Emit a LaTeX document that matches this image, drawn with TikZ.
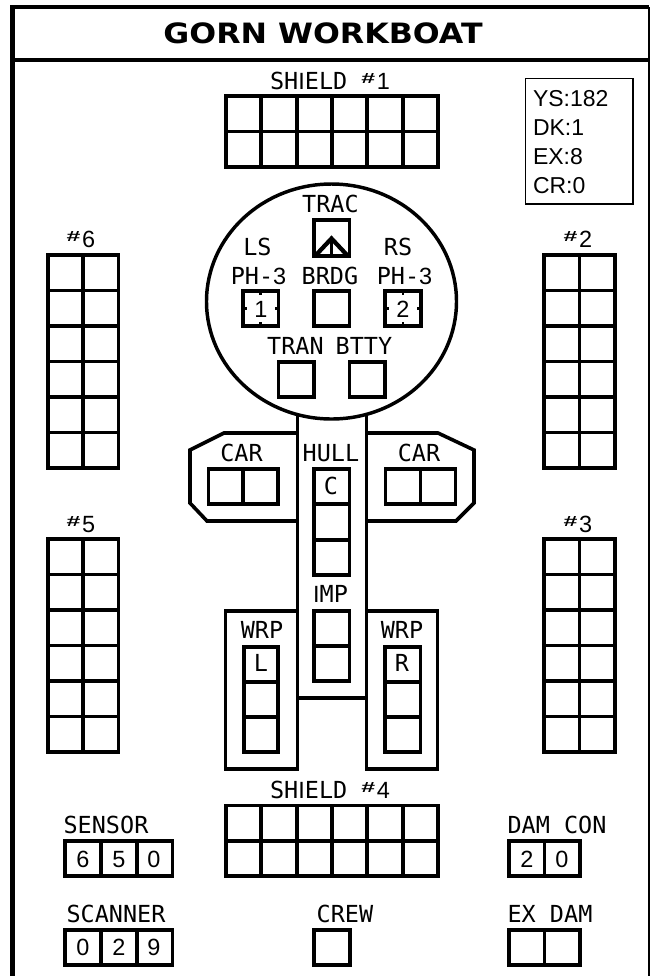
\documentclass[tikz,border=0pt]{standalone}
\usepackage{fontspec}
\setmainfont{DejaVu Sans Mono}
\newfontfamily\lib{Liberation Sans}
\newfontfamily\ttl{DejaVu Sans}
\newcommand{\nI}{{\lib I}}
\newcommand{\num}[1]{{\lib #1}}
\newcommand{\hashsym}{\raisebox{4.2pt}{\scalebox{1.7}[1]{\fontsize{11pt}{11pt}\lib\bfseries\#}}\kern1.2pt}
\newcommand{\cells}[6]{%
  \foreach \i in {0,...,#5} {
    \pgfmathsetmacro{\xx}{#1+(#3-#1)*\i/#5}
    \draw[cellline] (\xx,#2) -- (\xx,#4);
  }
  \foreach \j in {0,...,#6} {
    \pgfmathsetmacro{\yy}{#2+(#4-#2)*\j/#6}
    \draw[cellline] (#1,\yy) -- (#3,\yy);
  }
}
\tikzset{
  cellline/.style={line width=2.85pt,line cap=rect,black},
  hullline/.style={line width=2.7pt,line join=miter,black},
  thinline/.style={line width=1.35pt,black},
  lbl/.style={inner sep=0pt,outer sep=0pt,anchor=center,text height=12.6pt,text depth=0pt,
    font=\fontsize{17.6pt}{17.6pt}\selectfont},
  ttext/.style={inner sep=0pt,anchor=center,text height=15pt,text depth=0pt,
    font=\fontsize{21pt}{21pt}\ttl\bfseries},
  info/.style={lbl,anchor=west,font=\fontsize{17.25pt}{17.25pt}\lib}
}
\begin{document}
\begin{tikzpicture}[x=0.75pt,y=-0.75pt]
\useasboundingbox (0,0) rectangle (650,976);
\fill[white] (0,0) rectangle (650,976);
% frame
\draw[line width=3.3pt] (12.5,976) -- (12.5,7) -- (649,7);
\draw[line width=3pt] (12.5,60) -- (650,60);
\draw[thinline] (649,7) -- (649,976);
\node[ttext] (title) at (323,33) {\scalebox{1.13}[1]{GORN WORKBOAT}};
% info box
\draw[thinline] (525.5,78.5) rectangle (633,204);
\node[info] (ys) at (533,98) {YS:182};
\node[info] (dk) at (533,127) {DK:1};
\node[info] (ex) at (533,156) {EX:8};
\node[info] (cr) at (533,185) {CR:0};
% shields
\cells{226}{96}{438}{167}{6}{2}
\node[lbl] (s1) at (330,81) {SH\nI ELD \hashsym\num{1}};
\cells{226}{805.5}{438}{876}{6}{2}
\node[lbl] (s4) at (330,790) {SH\nI ELD \hashsym\num{4}};
\cells{48}{255}{118.5}{468}{2}{6}
\node[lbl] (s6) at (81,239) {\hashsym\num{6}};
\cells{48}{539}{118.5}{752}{2}{6}
\node[lbl] (s5) at (81,524) {\hashsym\num{5}};
\cells{544}{255}{615}{468}{2}{6}
\node[lbl] (s2) at (578,239) {\hashsym\num{2}};
\cells{544}{539}{615}{752}{2}{6}
\node[lbl] (s3) at (578,524) {\hashsym\num{3}};
% saucer
\draw[line width=2.6pt] (331.5,301.5) ellipse [x radius=125,y radius=117.5];
\cells{314}{220}{349.5}{256}{1}{1}
\node[lbl] (trac) at (330.5,204.5) {TRAC};
\draw[line width=3.2pt,line join=miter] (316,255) -- (331.5,238.5) -- (347,255);
\draw[line width=1.8pt] (331.5,238) -- (331.5,256);
\node[lbl] (ls) at (257.5,247) {LS};
\node[lbl] (rs) at (398,247) {RS};
\node[lbl] (ph1) at (258.5,276.5) {PH-\num{3}};
\node[lbl] (brdg) at (330,276.5) {BRDG};
\node[lbl] (ph2) at (404.5,276.5) {PH-\num{3}};
\cells{243}{291}{278.5}{326}{1}{1}
\cells{314}{291}{349.5}{326}{1}{1}
\cells{385}{291}{421}{326}{1}{1}
\node[lbl] (n1) at (261,309) {\num{1}};
\node[lbl] (n2) at (403,309) {\num{2}};
\foreach \cx/\hw in {260.75/17.75,403/18}
  \foreach \s in {-1,1} {
    \draw[line width=2pt] (\cx,308.5+\s*17.5) -- (\cx,308.5+\s*13.5);
    \draw[line width=2pt] (\cx+\s*\hw,308.5) -- (\cx+\s*\hw-\s*4,308.5);
  }
\node[lbl] (tran) at (295.5,346) {TRAN};
\node[lbl] (btty) at (364,346) {BTTY};
\cells{278.5}{362}{314}{397}{1}{1}
\cells{349.5}{362}{385}{397}{1}{1}
% hull
\draw[hullline] (297.5,416) -- (297.5,698) -- (366.5,698) -- (366.5,416);
\node[lbl] (hull) at (331,453) {HULL};
\cells{314}{469}{349.5}{575}{1}{3}
\node[lbl] (c) at (331,486) {C};
\node[lbl] (imp) at (330.5,594) {\nI MP};
\cells{314}{611}{349.5}{681}{1}{2}
% cargo pods
\draw[hullline] (297.5,433) -- (224,433) -- (190,450) -- (190,503) -- (207,521) -- (297.5,521);
\draw[hullline] (366.5,433) -- (438,433) -- (474,450) -- (474,503) -- (456,521) -- (366.5,521);
\cells{208.5}{469}{278}{504}{2}{1}
\cells{385.5}{469}{455.5}{504}{2}{1}
\node[lbl] (car1) at (241.5,453) {CAR};
\node[lbl] (car2) at (419,453) {CAR};
% warp
\draw[hullline] (297.5,611) -- (225.5,611) -- (225.5,769) -- (297.5,769) -- cycle;
\draw[hullline] (366.5,611) -- (437.5,611) -- (437.5,769) -- (366.5,769) -- cycle;
\node[lbl] (wrp1) at (262,630) {WRP};
\node[lbl] (wrp2) at (402,630) {WRP};
\cells{244}{647}{278}{752}{1}{3}
\cells{385}{647}{420.5}{752}{1}{3}
\node[lbl] (l) at (261,663) {L};
\node[lbl] (r) at (402,663) {R};
% lower panel
\node[lbl] (sensor) at (106,825) {SENSOR};
\cells{65}{841}{172.5}{876}{3}{1}
\node[lbl] (d1) at (83,859) {\num{6}};
\node[lbl] (d2) at (119,859) {\num{5}};
\node[lbl] (d3) at (154,859) {\num{0}};
\node[lbl] (scanner) at (116,914) {SCANNER};
\cells{65}{930}{172.5}{965}{3}{1}
\node[lbl] (d4) at (83,947) {\num{0}};
\node[lbl] (d5) at (119,947) {\num{2}};
\node[lbl] (d6) at (154,947) {\num{9}};
\node[lbl] (crew) at (345,914) {CREW};
\cells{314}{930}{350}{965}{1}{1}
\node[lbl] (damcon) at (557,825) {DAM CON};
\cells{509}{841}{580}{876}{2}{1}
\node[lbl] (d7) at (527,859) {\num{2}};
\node[lbl] (d8) at (562,859) {\num{0}};
\node[lbl] (exdam) at (550,914) {EX DAM};
\cells{509}{930}{580}{965}{2}{1}
\end{tikzpicture}
\end{document}
